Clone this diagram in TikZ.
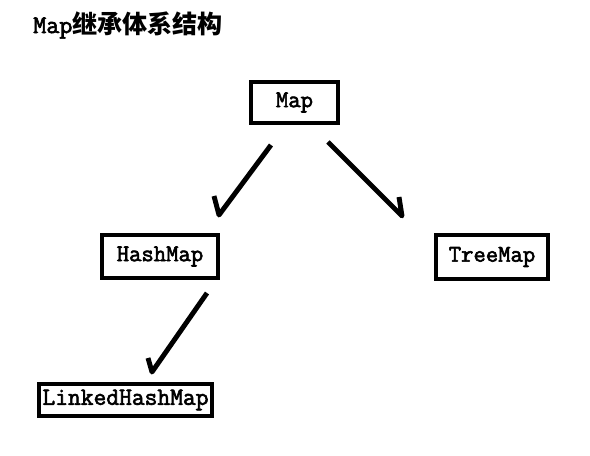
\documentclass[tikz,border=0pt]{standalone}
\usepackage{fontspec}
\setmonofont[AutoFakeBold=2.5]{Latin Modern Mono}
\newfontfamily\cjk{Noto Sans CJK SC}
\usetikzlibrary{positioning}

\begin{document}
\begin{tikzpicture}[%
            x=0.75pt,
            y=-0.75pt,
            ]
    \tikzset{box/.style = {draw, line width=3pt, inner sep=0pt, font=\ttfamily\bfseries\fontsize{18}{18}\selectfont}}
    \tikzset{link/.style = {line width=3.7pt, line join=round}}

    \useasboundingbox (0,0) rectangle (590,456);

    % Title
    \node[anchor=west, inner sep=0pt] (title) at (33,25)
        {\ttfamily\bfseries\fontsize{19}{20}\selectfont Map\cjk\fontsize{18.8}{20}\selectfont 继承体系结构};

    % Boxes
    \node[box, minimum width=65pt, minimum height=30.75pt] (map) at (294.5,102.5) {Map};
    \node[box, minimum width=87pt, minimum height=32.25pt] (hash) at (160,256.5) {HashMap};
    \node[box, minimum width=84pt, minimum height=33pt] (tree) at (492,257) {TreeMap};
    \node[box, font=\ttfamily\bfseries\fontsize{18.6}{18}\selectfont, minimum width=129.75pt, minimum height=24pt] (linked) at (125.5,400) {LinkedHashMap};

    % Arrows
    \coordinate (m1) at ([shift={(-23.5,20)}]map.south);
    \coordinate (m2) at ([shift={(33.5,17)}]map.south);
    \coordinate (h0) at ([shift={(59,-18)}]hash.north);
    \coordinate (t0) at ([shift={(-90,-17)}]tree.north);
    \coordinate (h1) at ([shift={(47,13)}]hash.south);
    \coordinate (l0) at ([shift={(26.5,-10)}]linked.north);

    \draw[link] (m1) -- (h0) -- ++(-5,-19);
    \draw[link] (m2) -- (t0) -- ++(-3,-19);
    \draw[link] (h1) -- (l0) -- ++(-4,-14);

\end{tikzpicture}
\end{document}
